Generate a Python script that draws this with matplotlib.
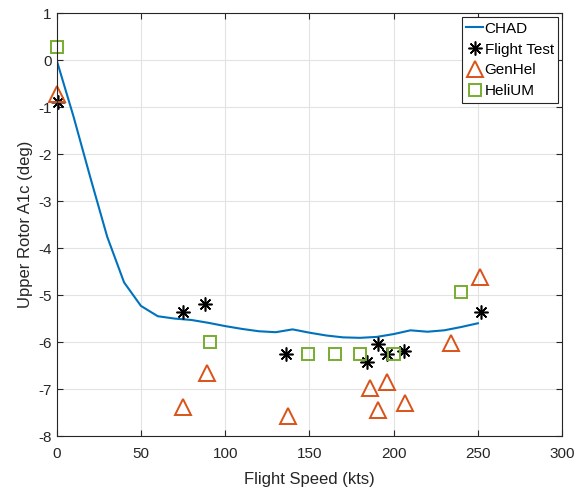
import numpy as np
import matplotlib
matplotlib.use("Agg")
import matplotlib.pyplot as plt

plt.rcParams['font.family'] = ['Liberation Sans', 'DejaVu Sans']
plt.rcParams['axes.unicode_minus'] = False

# CHAD prediction, every 10 kts
chad_speed = [0, 10, 20, 30, 40, 50, 60, 70, 80, 90, 100, 110, 120, 130, 140,
              150, 160, 170, 180, 190, 200, 210, 220, 230, 240, 250]
chad_a1c = [0.0, -1.2, -2.5, -3.76, -4.73, -5.23, -5.45, -5.50, -5.53, -5.59,
            -5.66, -5.72, -5.77, -5.79, -5.73, -5.80, -5.86, -5.90, -5.91,
            -5.89, -5.83, -5.75, -5.78, -5.75, -5.68, -5.60]

# flight test data
ft_speed = [1, 75, 88, 136, 184, 191, 196, 206, 252]
ft_a1c = [-0.89, -5.35, -5.2, -6.26, -6.42, -6.04, -6.26, -6.19, -5.35]

# GenHel
gh_speed = [0, 75, 89, 137, 186, 191, 196, 207, 234, 251]
gh_a1c = [-0.72, -7.39, -6.65, -7.57, -6.97, -7.45, -6.86, -7.29, -6.01, -4.62]

# HeliUM
hu_speed = [0, 91, 149, 165, 180, 200, 240]
hu_a1c = [0.28, -5.99, -6.26, -6.26, -6.26, -6.26, -4.93]

dark = '#262626'


def make_plot(filename="out.png"):
    fig = plt.figure(figsize=(5.88, 4.91), dpi=100)
    ax = fig.add_axes([0.0964, 0.112, 0.8596, 0.861])

    ax.plot(chad_speed, chad_a1c, color='#0072BD', lw=1.5, label='CHAD')
    ax.plot(ft_speed, ft_a1c, ls='none', marker=(8, 2, 0), ms=10,
            mec='black', mew=1.15, color='black', label='Flight Test',
            clip_on=False)
    ax.plot(gh_speed, gh_a1c, ls='none', marker='^', ms=11,
            mfc='none', mec='#D95319', mew=1.4, label='GenHel', clip_on=False)
    ax.plot(hu_speed, hu_a1c, ls='none', marker='s', ms=8,
            mfc='none', mec='#77AC30', mew=1.4, label='HeliUM', clip_on=False)

    ax.set_xlim(0, 300)
    ax.set_ylim(-8, 1)
    ax.set_xticks(np.arange(0, 301, 50))
    ax.set_yticks(np.arange(-8, 2, 1))
    ax.grid(True, color='#e3e3e3', lw=0.8)
    ax.set_axisbelow(True)

    for sp in ax.spines.values():
        sp.set_color(dark)
        sp.set_linewidth(0.8)
    ax.tick_params(direction='in', length=4, width=0.8, colors=dark,
                   labelsize=11, top=True, right=True)
    ax.tick_params(axis='x', pad=8)
    ax.tick_params(axis='y', pad=3.5)

    ax.set_xlabel('Flight Speed (kts)', fontsize=12, color=dark, labelpad=8)
    ax.set_ylabel('Upper Rotor A1c (deg)', fontsize=12, color=dark, labelpad=4)

    leg = ax.legend(loc='upper right', fontsize=11, fancybox=False,
                    framealpha=1, edgecolor=dark, borderaxespad=0.25,
                    handlelength=1.1, handletextpad=0.1, borderpad=0.3,
                    labelspacing=0.45)
    leg.get_frame().set_linewidth(0.8)

    fig.savefig(filename, dpi=100)
    plt.close(fig)


if __name__ == "__main__":
    make_plot()
